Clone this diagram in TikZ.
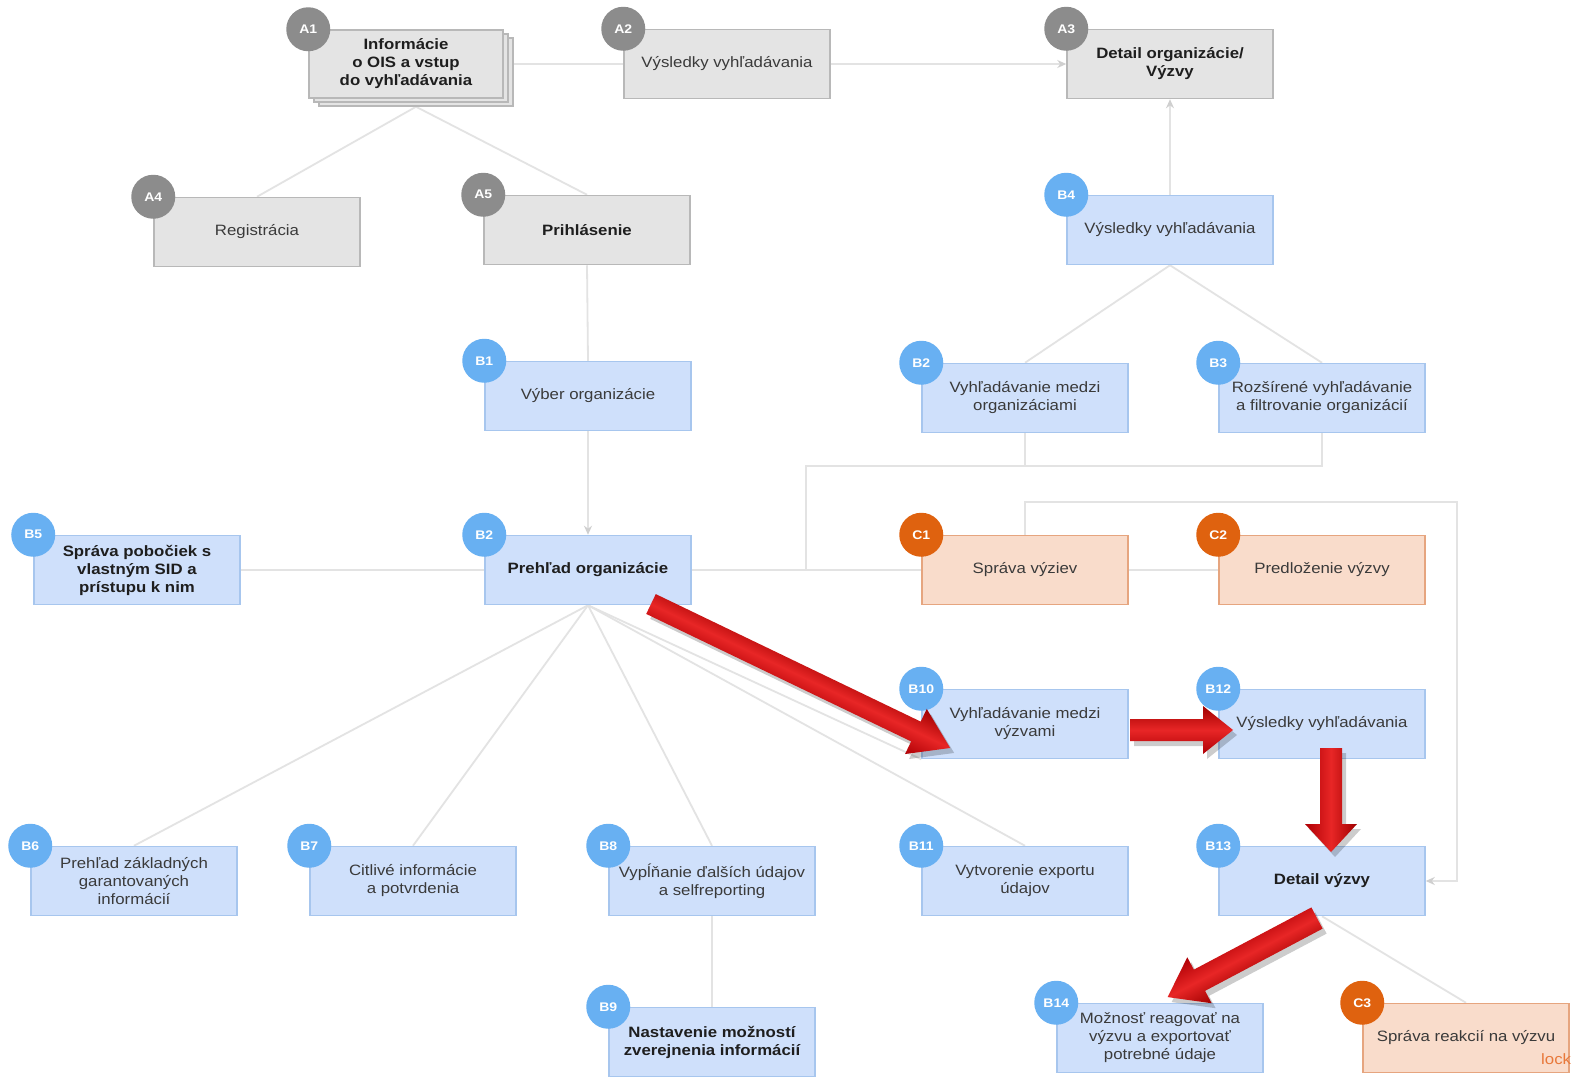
\documentclass[tikz,border=0pt]{standalone}
\usepackage{fontspec}
\setmainfont{Liberation Sans}[FakeStretch=1.12]
\usetikzlibrary{arrows.meta,calc}
\definecolor{lnc}{HTML}{E3E3E3}
\definecolor{arrc}{HTML}{CFCFCF}
\definecolor{gfill}{HTML}{E4E4E4}
\definecolor{gdraw}{HTML}{B8B8B8}
\definecolor{bfill}{HTML}{CFE0FB}
\definecolor{bdraw}{HTML}{A7C6EE}
\definecolor{ofill}{HTML}{F9DCCB}
\definecolor{odraw}{HTML}{E6A57F}
\definecolor{gbad}{HTML}{8C8C8C}
\definecolor{bbad}{HTML}{68B0F2}
\definecolor{obad}{HTML}{DF620F}
\definecolor{txt}{HTML}{3A3A3A}
\definecolor{txtb}{HTML}{1E1E1E}
\definecolor{lockc}{HTML}{E8783A}
\definecolor{rdark}{RGB}{160,0,0}
\definecolor{rdarkb}{RGB}{175,0,5}
\definecolor{rlight}{RGB}{232,38,38}
\pgfdeclarelayer{bg}
\pgfsetlayers{bg,main}
\newcommand\redarrow[7]{%
  \begin{scope}[transform canvas={shift={(#1+4,#2+5)},rotate=#3}]
    \fill[black,opacity=0.2] (0,-#5) -- ({#4-#7},-#5) -- ({#4-#7},-#6) -- (#4,0)
      -- ({#4-#7},#6) -- ({#4-#7},#5) -- (0,#5) -- cycle;
  \end{scope}
  \begin{scope}[transform canvas={shift={(#1,#2)},rotate=#3}]
    \shade[top color=rdark,bottom color=rdarkb,middle color=rlight]
      (0,-#5) -- ({#4-#7},-#5) -- ({#4-#7},-#6) -- (#4,0)
      -- ({#4-#7},#6) -- ({#4-#7},#5) -- (0,#5) -- cycle;
  \end{scope}}
\tikzset{
  conn/.style={draw=lnc, line width=1.8bp},
  connarr/.style={conn, -{Stealth[length=9bp,width=8bp,color=arrc]}},
  boxbase/.style={rectangle, minimum width=206bp, minimum height=69bp, align=center,
     inner sep=2bp, line width=1.5bp, font=\fontsize{15bp}{18bp}\selectfont, text=txt},
  boxG/.style={boxbase, fill=gfill, draw=gdraw},
  boxB/.style={boxbase, fill=bfill, draw=bdraw},
  boxO/.style={boxbase, fill=ofill, draw=odraw},
  bf/.style={font=\fontsize{15bp}{18bp}\selectfont\bfseries, text=txtb},
  badge/.style={circle, minimum size=44bp, inner sep=0bp, text=white,
     font=\fontsize{12.5bp}{12.5bp}\selectfont\bfseries},
  badgeG/.style={badge, fill=gbad},
  badgeB/.style={badge, fill=bbad},
  badgeO/.style={badge, fill=obad},
}
\begin{document}
\begin{tikzpicture}[x=1bp,y=-1bp]
% ---- A row
\node[boxG, minimum width=194bp, minimum height=68bp] (A1c) at (416,72) {};
\node[boxG, minimum width=194bp, minimum height=68bp] (A1b) at (411,68) {};
\node[boxG, bf, minimum width=194bp, minimum height=68bp] (A1) at (406,64) {Informácie\\o OIS a vstup\\do vyhľadávania};
\node[boxG] (A2) at (727,64) {Výsledky vyhľadávania};
\node[boxG, bf] (A3) at (1170,64) {Detail organizácie/\\Výzvy};
\node[boxG] (A4) at (257,232) {Registrácia};
\node[boxG, bf] (A5) at (587,230) {Prihlásenie};
% ---- B nodes
\node[boxB] (B4) at (1170,230) {Výsledky vyhľadávania};
\node[boxB] (B1) at (588,396) {Výber organizácie};
\node[boxB] (B2o) at (1025,398) {Vyhľadávanie medzi\\organizáciami};
\node[boxB] (B3) at (1322,398) {Rozšírené vyhľadávanie\\a filtrovanie organizácií};
\node[boxB, bf] (B5) at (137,570) {Správa pobočiek s\\vlastným SID a\\prístupu k nim};
\node[boxB, bf] (Pr) at (588,570) {Prehľad organizácie};
\node[boxO] (C1) at (1025,570) {Správa výziev};
\node[boxO] (C2) at (1322,570) {Predloženie výzvy};
\node[boxB] (B10) at (1025,724) {Vyhľadávanie medzi\\výzvami};
\node[boxB] (B12) at (1322,724) {Výsledky vyhľadávania};
\node[boxB] (B6) at (134,881) {Prehľad základných\\garantovaných\\informácií};
\node[boxB] (B7) at (413,881) {Citlivé informácie\\a potvrdenia};
\node[boxB] (B8) at (712,881) {Vypĺňanie ďalších údajov\\a selfreporting};
\node[boxB] (B11) at (1025,881) {Vytvorenie exportu\\údajov};
\node[boxB, bf] (B13) at (1322,881) {Detail výzvy};
\node[boxB, bf] (B9) at (712,1042) {Nastavenie možností\\zverejnenia informácií};
\node[boxB] (B14) at (1160,1038) {Možnosť reagovať na\\výzvu a exportovať\\potrebné údaje};
\node[boxO] (C3) at (1466,1038) {Správa reakcií na výzvu};
\node[anchor=west, text=lockc, font=\fontsize{15bp}{18bp}\selectfont, inner sep=0bp] (lock) at (1541,1059) {lock};
% ---- badges
\node[badgeG] at (A1.north west) {A1};
\node[badgeG] at (A2.north west) {A2};
\node[badgeG] at (A3.north west) {A3};
\node[badgeG] at (A4.north west) {A4};
\node[badgeG] at (A5.north west) {A5};
\node[badgeB] at (B4.north west) {B4};
\node[badgeB] at (B1.north west) {B1};
\node[badgeB] at (B2o.north west) {B2};
\node[badgeB] at (B3.north west) {B3};
\node[badgeB] at (B5.north west) {B5};
\node[badgeB] at (Pr.north west) {B2};
\node[badgeO] at (C1.north west) {C1};
\node[badgeO] at (C2.north west) {C2};
\node[badgeB] at (B10.north west) {B10};
\node[badgeB] at (B12.north west) {B12};
\node[badgeB] at (B6.north west) {B6};
\node[badgeB] at (B7.north west) {B7};
\node[badgeB] at (B8.north west) {B8};
\node[badgeB] at (B11.north west) {B11};
\node[badgeB] at (B13.north west) {B13};
\node[badgeB] at (B9.north west) {B9};
\node[badgeB] at (B14.north west) {B14};
\node[badgeO] at (C3.north west) {C3};
% ---- connectors
\begin{pgfonlayer}{bg}
\fill[white] (0,0) rectangle (1579,1082);
\draw[conn] (A1.east) -- (A2.west);
\draw[connarr] (A2.east) -- (A3.west);
\draw[conn] (A1c.south) -- (A4.north);
\draw[conn] (A1c.south) -- (A5.north);
\draw[conn] (A5.south) -- (B1.north);
\draw[connarr] (B1.south) -- (Pr.north);
\draw[connarr] (B4.north) -- (A3.south);
\draw[conn] (B4.south) -- (B2o.north);
\draw[conn] (B4.south) -- (B3.north);
\coordinate (jn) at (806,466);
\draw[conn] (B2o.south) |- (jn);
\draw[conn] (B3.south) |- (jn) -- (jn |- Pr.east);
\draw[conn] (B5.east) -- (Pr.west);
\draw[conn] (Pr.east) -- (C1.west);
\draw[conn] (C1.east) -- (C2.west);
\coordinate (rt) at (1457,502);
\draw[connarr] (C1.north) |- (rt) |- (B13.east);
\draw[conn] (Pr.south) -- (B6.north);
\draw[conn] (Pr.south) -- (B7.north);
\draw[conn] (Pr.south) -- (B8.north);
\draw[conn] (Pr.south) -- (B10.south west);
\draw[conn] (Pr.south) -- (B11.north);
\draw[conn] (B8.south) -- (B9.north);
\draw[conn] (B13.south) -- (C3.north);
\end{pgfonlayer}
% ---- red arrows
\redarrow{651}{604}{-25.7}{332}{11}{25}{38}
\redarrow{1130}{730}{0}{103}{11}{24}{30}
\redarrow{1331}{748}{-90}{104}{11}{26}{28}
\redarrow{1317}{918}{-152.1}{169}{12}{26}{36}
\pgfresetboundingbox
\path[use as bounding box] (0,0) rectangle (1579,1082);
\end{tikzpicture}
\end{document}
